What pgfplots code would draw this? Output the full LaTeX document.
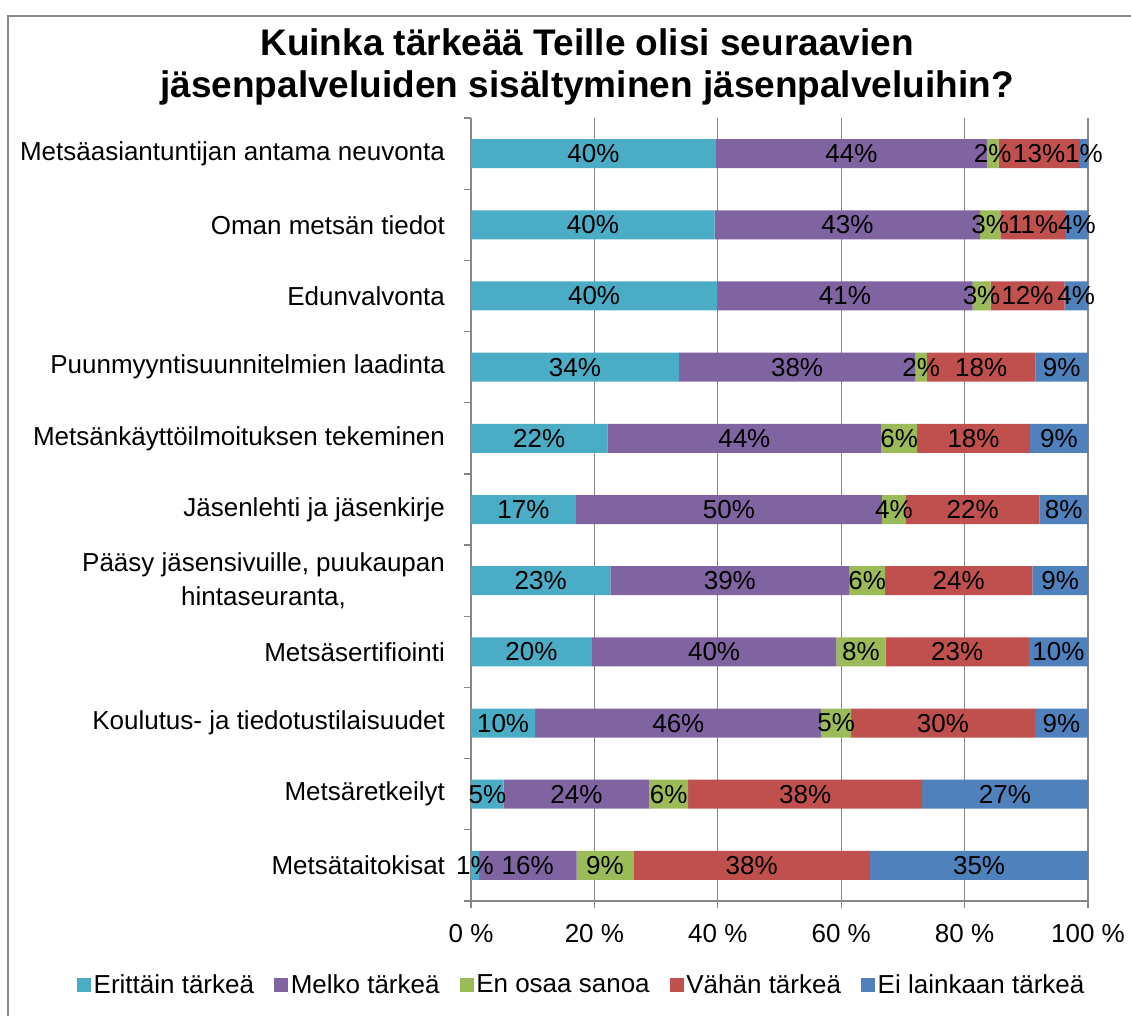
\documentclass[border=0pt]{standalone}
\usepackage{pgfplots}
\pgfplotsset{compat=1.18}
\usepackage{fontspec}
\setmainfont{Liberation Sans}
\definecolor{c1}{HTML}{4BACC6}
\definecolor{c2}{HTML}{8064A2}
\definecolor{c3}{HTML}{9BBB59}
\definecolor{c4}{HTML}{C0504D}
\definecolor{c5}{HTML}{4F81BD}
\definecolor{gridgray}{HTML}{868686}
\begin{document}
\begin{tikzpicture}[x=1pt,y=1pt]
\path[use as bounding box] (0,0) rectangle (848.25,762);
\draw[gridgray, line width=1.5pt] (6,-10) -- (6,750) -- (860,750);
\node[align=center, font=\fontsize{27.75}{32}\bfseries\selectfont] at (440.25,711.75)
  {Kuinka tärkeää Teille olisi seuraavien\\jäsenpalveluiden sisältyminen jäsenpalveluihin?};
\begin{axis}[
  at={(353.25pt,86.25pt)}, anchor=south west,
  scale only axis, width=462.75pt, height=587.25pt,
  xbar stacked, bar width=21.75pt,
  xmin=0, xmax=100, ymin=-0.5, ymax=10.5, y dir=reverse,
  xtick={0,20,...,100},
  xticklabel={\pgfmathprintnumber[assume math mode=true]{\tick} \%},
  ytick={0,...,10},
  yticklabels={Metsäasiantuntijan antama neuvonta, Oman metsän tiedot, Edunvalvonta,
    Puunmyyntisuunnitelmien laadinta, Metsänkäyttöilmoituksen tekeminen,
    Jäsenlehti ja jäsenkirje, {Pääsy jäsensivuille, puukaupan\\hintaseuranta,},
    Metsäsertifiointi, Koulutus- ja tiedotustilaisuudet, Metsäretkeilyt, Metsätaitokisat},
  minor ytick={-0.5,0.5,...,10.5},
  major y tick style={draw=none},
  tick align=outside, major tick length=5pt, minor tick length=5pt,
  tick style={gridgray, line width=1pt},
  xmajorgrids, major grid style={gridgray, line width=1pt},
  axis x line*=bottom, axis y line*=left,
  axis line style={-, gridgray, line width=1pt},
  tick label style={font=\fontsize{19.5}{26}\selectfont, black},
  yticklabel style={align=center, xshift=-11pt},
  xticklabel style={yshift=-9pt},
  visualization depends on={rawx \as \rawxval},
  nodes near coords={\pgfmathprintnumber[fixed,precision=0,assume math mode=true]{\rawxval}\%},
  every node near coord/.append style={anchor=center, black,
    font=\fontsize{19.5}{23}\selectfont},
  legend style={at={(0.18,-0.107)}, anchor=center, draw=none,
    legend columns=5, font=\fontsize{19.5}{23}\selectfont,
    /tikz/every even column/.append style={column sep=13pt}},
  legend image code/.code={\fill[#1] (0pt,-5.25pt) rectangle (10.5pt,5.25pt);},
]
\addplot[fill=c1, draw=none] coordinates {(39.7,0) (39.5,1) (39.9,2) (33.7,3) (22.1,4) (17.0,5) (22.6,6) (19.6,7) (10.4,8) (5.3,9) (1.3,10)};
\addplot[fill=c2, draw=none] coordinates {(43.9,0) (43.0,1) (41.4,2) (38.3,3) (44.4,4) (49.6,5) (38.7,6) (39.6,7) (46.4,8) (23.6,9) (15.8,10)};
\addplot[fill=c3, draw=none] coordinates {(1.9,0) (3.3,1) (2.9,2) (1.9,3) (5.8,4) (3.9,5) (5.8,6) (8.0,7) (4.8,8) (6.3,9) (9.2,10)};
\addplot[fill=c4, draw=none] coordinates {(13.2,0) (10.6,1) (12.0,2) (17.6,3) (18.3,4) (21.6,5) (23.9,6) (23.2,7) (29.8,8) (37.9,9) (38.4,10)};
\addplot[fill=c5, draw=none] coordinates {(1.3,0) (3.6,1) (3.8,2) (8.5,3) (9.4,4) (7.9,5) (9.0,6) (9.6,7) (8.6,8) (26.9,9) (35.3,10)};
\legend{Erittäin tärkeä, Melko tärkeä, En osaa sanoa, Vähän tärkeä, Ei lainkaan tärkeä}
\end{axis}
\end{tikzpicture}
\end{document}
